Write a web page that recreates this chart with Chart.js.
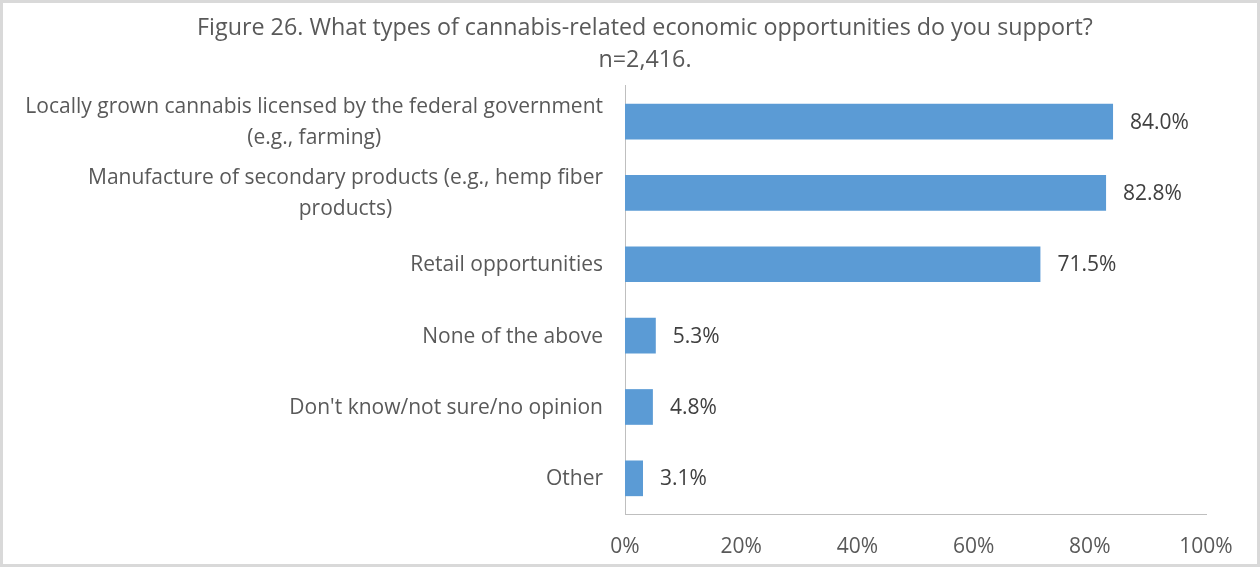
<!DOCTYPE html>
<html>
<head>
<meta charset="utf-8">
<title>Cannabis-related economic opportunities</title>
<script src="https://cdn.jsdelivr.net/npm/chart.js@4.4.1/dist/chart.umd.min.js"></script>
<style>
  html, body { margin: 0; padding: 0; background: #fff; }
  #wrap { width: 1260px; height: 567px; position: relative; }
</style>
</head>
<body>
<div id="wrap"><canvas id="chart"></canvas></div>
<script>
// survey answers, each one split into the lines it is printed on
const categories = [
    ['Locally grown cannabis licensed by the federal government', '(e.g., farming)'],
    ['Manufacture of secondary products (e.g., hemp fiber', 'products)'],
    ['Retail opportunities'],
    ['None of the above'],
    ["Don't know/not sure/no opinion"],
    ['Other']
];
const percentages = [84.0, 82.8, 71.5, 5.3, 4.8, 3.1];
const xTicks = [0, 20, 40, 60, 80, 100];

const titleLines = [
    'Figure 26. What types of cannabis-related economic opportunities do you support?',
    'n=2,416.'
];

const FONT = '"Open Sans"';
const TEXT = '#595959';

// category labels: each block is right aligned, its lines centered within it
const categoryLabels = {
    id: 'categoryLabels',
    afterDraw(chart) {
        const ctx = chart.ctx;
        const yScale = chart.scales.y;
        const right = chart.chartArea.left - 22;
        const lineH = 31;
        ctx.save();
        ctx.font = '21px ' + FONT;
        ctx.fillStyle = TEXT;
        ctx.textAlign = 'center';
        ctx.textBaseline = 'middle';
        categories.forEach((lines, i) => {
            const yc = yScale.getPixelForValue(i) + 1;
            const w = Math.max(...lines.map(l => ctx.measureText(l).width));
            const xc = right - w / 2;
            const y0 = yc - (lines.length - 1) * lineH / 2;
            lines.forEach((l, j) => ctx.fillText(l, xc, y0 + j * lineH));
        });
        ctx.restore();
    }
};

// value labels just past the end of each bar
const valueLabels = {
    id: 'valueLabels',
    afterDatasetsDraw(chart) {
        const ctx = chart.ctx;
        const meta = chart.getDatasetMeta(0);
        ctx.save();
        ctx.font = '21px ' + FONT;
        ctx.fillStyle = '#404040';
        ctx.textAlign = 'left';
        ctx.textBaseline = 'middle';
        meta.data.forEach((bar, i) => {
            ctx.fillText(percentages[i].toFixed(1) + '%', bar.x + 17, bar.y + 1);
        });
        ctx.restore();
    }
};

// light grey frame round the whole figure
const frame = {
    id: 'frame',
    beforeDraw(chart) {
        const ctx = chart.ctx;
        ctx.save();
        ctx.fillStyle = '#fff';
        ctx.fillRect(0, 0, chart.width, chart.height);
        ctx.strokeStyle = '#d9d9d9';
        ctx.lineWidth = 3;
        ctx.strokeRect(1.5, 1.5, chart.width - 3, chart.height - 3);
        ctx.restore();
    }
};

const ctx = document.getElementById('chart').getContext('2d');
new Chart(ctx, {
    type: 'bar',
    data: {
        labels: categories,
        datasets: [{
            data: percentages,
            backgroundColor: '#5b9bd5',
            borderWidth: 0,
            barPercentage: 0.5,
            categoryPercentage: 1
        }]
    },
    options: {
        indexAxis: 'y',
        responsive: true,
        maintainAspectRatio: false,
        animation: false,
        layout: {
            padding: { left: 84, right: 54, top: 0, bottom: 0 }
        },
        plugins: {
            legend: { display: false },
            tooltip: { enabled: false },
            title: {
                display: true,
                text: titleLines,
                color: TEXT,
                font: { family: 'Open Sans', size: 23.3, weight: 'normal', lineHeight: 1.35 },
                padding: { top: 13, bottom: 10 }
            }
        },
        scales: {
            x: {
                min: 0,
                max: 100,
                afterBuildTicks(scale) {
                    scale.ticks = xTicks.map(v => ({ value: v }));
                },
                grid: { display: false, drawTicks: false },
                border: { display: true, color: '#bfbfbf', dash: [2, 2] },
                ticks: {
                    padding: 20,
                    color: TEXT,
                    font: { family: 'Open Sans', size: 21 },
                    callback: v => v + '%'
                },
                afterFit(scale) { scale.height = 53; }
            },
            y: {
                grid: { display: false, drawTicks: false },
                border: { display: true, color: '#bfbfbf', dash: [2, 2] },
                ticks: { display: false },
                afterFit(scale) { scale.width = 541; }
            }
        }
    },
    plugins: [frame, categoryLabels, valueLabels]
});
</script>
</body>
</html>
